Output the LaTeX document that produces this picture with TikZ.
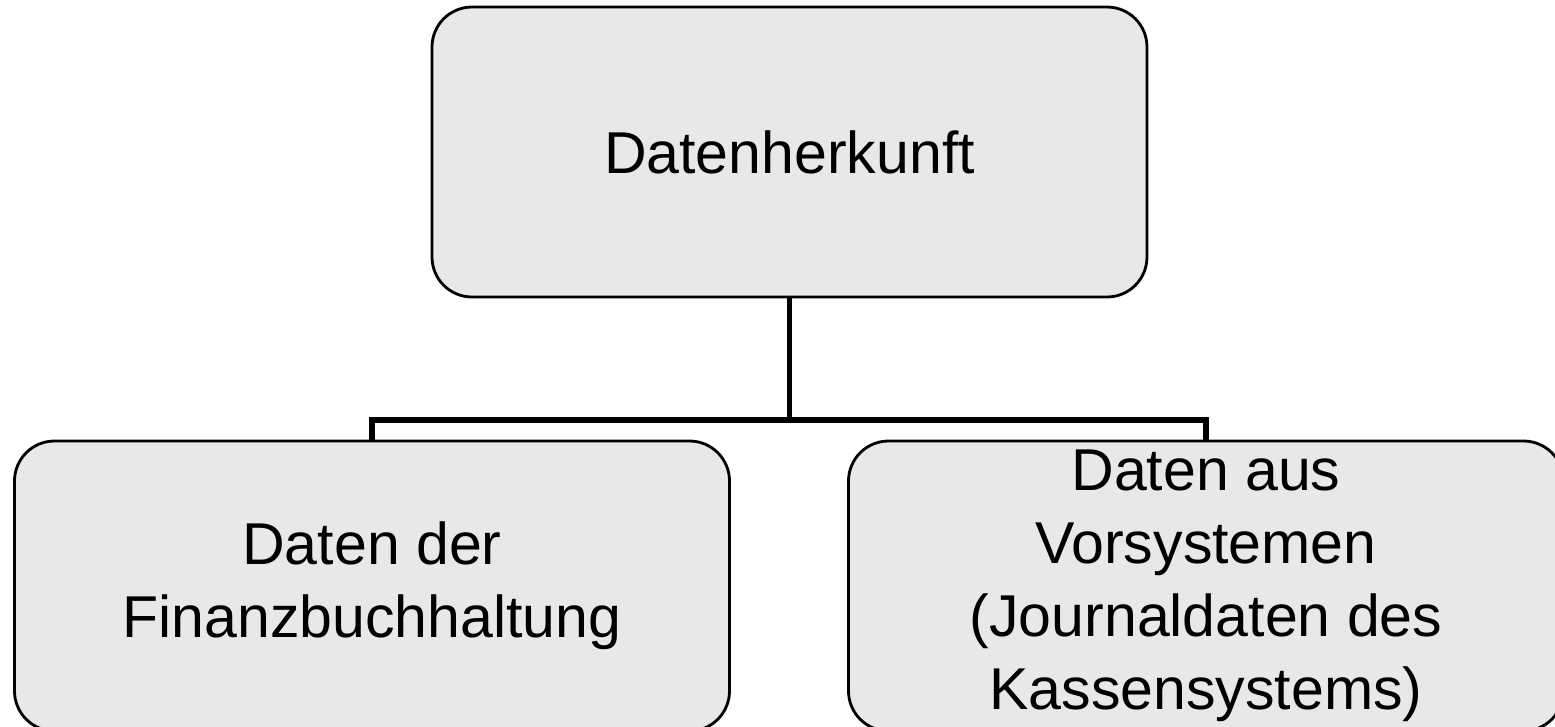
\documentclass[tikz,border=0pt]{standalone}
\usepackage{fontspec}
\setmainfont{Liberation Sans}
\usetikzlibrary{positioning}
\definecolor{ink}{HTML}{000000}
\definecolor{boxgray}{HTML}{E8E8E8}
\tikzset{
  orgbox/.style={rectangle,rounded corners=0.4cm,draw=ink,line width=0.8pt,fill=boxgray,align=center,
    minimum width=7.15cm,minimum height=2.9cm,inner sep=0pt,font=\fontsize{16.8}{20.8}\selectfont},
  link/.style={draw=ink,line width=1.7pt}
}
\begin{document}
\begin{tikzpicture}[x=1cm,y=1cm]
    \useasboundingbox (0,0) rectangle (15.55,7.26);
    \clip (0,0) rectangle (15.55,7.26);
    \node[orgbox] (herkunft) at (7.895,5.74) {Datenherkunft};
    \node[orgbox] (fibu) at (3.72,1.40) {Daten der\\Finanzbuchhaltung};
    \node[orgbox] (vorsys) at (12.06,1.40) {Daten aus\\Vorsystemen\\(Journaldaten des\\Kassensystems)};
    \coordinate (fork) at (7.895,3.06);
    \draw[link] (herkunft.south) -- (fork);
    \draw[link] (fork) -| (fibu.north);
    \draw[link] (fork) -| (vorsys.north);
  \end{tikzpicture}
\end{document}
